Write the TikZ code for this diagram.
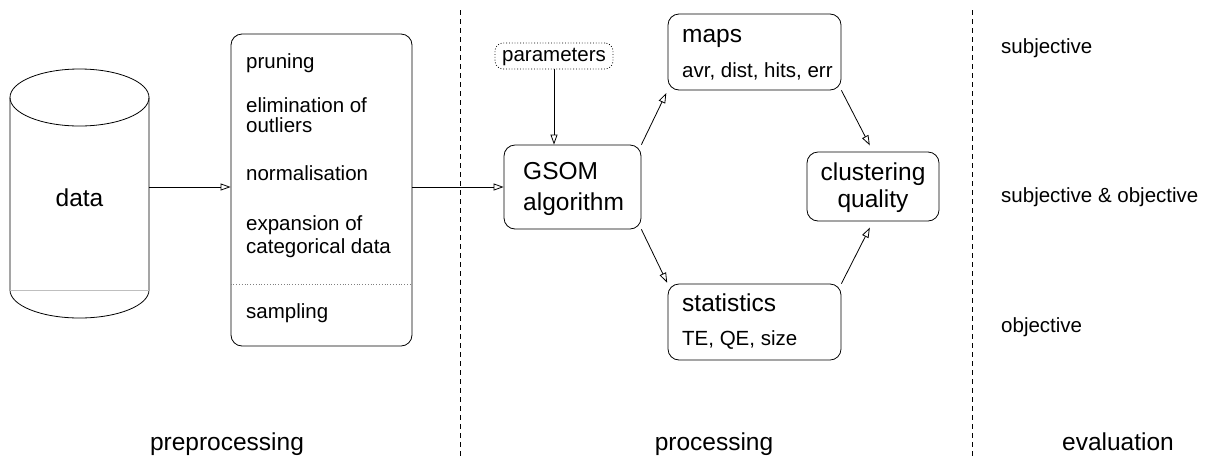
\documentclass[tikz,border=0pt]{standalone}
\usepackage{fontspec}
\setmainfont{Liberation Sans}
\usetikzlibrary{arrows.meta}
\tikzset{
  big/.style={font=\fontsize{24.5}{28}\selectfont, inner sep=0pt},
  small/.style={font=\fontsize{20.5}{23}\selectfont, inner sep=0pt},
  box/.style={draw, rounded corners=11pt, line width=0.8pt, inner sep=0pt},
  parbox/.style={draw, dotted, rounded corners=8pt, line width=0.8pt, inner sep=0pt},
  arr/.style={draw, line width=0.8pt, -{Triangle[open, length=10pt, width=7pt]}},
  sepline/.style={draw, dash pattern=on 5pt off 4pt, line width=0.8pt},
}
\begin{document}
\begin{tikzpicture}[x=1pt, y=-1pt]
\useasboundingbox (0,0) rectangle (1209,456);

% cylinder (data)
\draw[line width=0.8pt] (79.5,97.5) ellipse [x radius=69.5, y radius=28.5];
\draw[line width=0.8pt] (10,97.5) -- (10,290) arc[start angle=180, end angle=0, x radius=69.5, y radius=28] -- (149,97.5);
\draw[gray!50, line width=0.8pt] (10,290) -- (149,290);
\node[big, anchor=base] (data) at (79.5,206.7) {data};
\coordinate (dataE) at (149,187);

% preprocessing box
\node[box, minimum width=181pt, minimum height=312pt] (pre) at (321.5,190) {};
\node[small, anchor=base west] (p1) at (246,68) {pruning};
\node[small, anchor=base west] (p2) at (246,112) {elimination of};
\node[small, anchor=base west] (p3) at (246,132) {outliers};
\node[small, anchor=base west] (p4) at (246,180) {normalisation};
\node[small, anchor=base west] (p5) at (246,230) {expansion of};
\node[small, anchor=base west] (p6) at (246,253) {categorical data};
\node[small, anchor=base west] (p7) at (246,318) {sampling};
\coordinate (sepy) at (0,284);
\draw[dotted, gray, line width=0.8pt] (pre.west |- sepy) -- (pre.east |- sepy);

% processing
\node[parbox, minimum width=118pt, minimum height=26pt] (params) at (554,56) {};
\node[small, anchor=base] (paramtxt) at (554,61.7) {parameters};

\node[box, minimum width=137pt, minimum height=84pt] (gsom) at (572.5,187) {};
\node[big, anchor=base west] (g1) at (523,179) {GSOM};
\node[big, anchor=base west] (g2) at (523,210) {algorithm};

\node[box, minimum width=173pt, minimum height=76pt] (maps) at (754.5,52) {};
\node[big, anchor=base west] (m1) at (682,42.7) {maps};
\node[small, anchor=base west] (m2) at (682,77.3) {avr, dist, hits, err};

\node[box, minimum width=173pt, minimum height=76pt] (stats) at (754.5,322) {};
\node[big, anchor=base west] (s1) at (682,311.7) {statistics};
\node[small, anchor=base west] (s2) at (682,345.7) {TE, QE, size};

\node[box, minimum width=132pt, minimum height=69pt] (clust) at (873,186.5) {};
\node[big, anchor=base] (c1) at (873,180) {clustering};
\node[big, anchor=base] (c2) at (873,207) {quality};

% connectors
\draw[arr] (dataE) -- (dataE -| pre.west);
\draw[arr] (pre.east |- gsom.west) -- (gsom.west);
\draw[arr] (params.south) -- (params.south |- gsom.north);
\draw[arr, shorten >=3pt] (gsom.north east) -- (maps.south west);
\draw[arr, shorten >=7pt] (maps.south east) -- (clust.north);
\draw[arr, shorten >=1pt] (gsom.south east) -- (stats.north west);
\draw[arr, shorten >=7pt] (stats.north east) -- (clust.south);

% separators
\coordinate (d1t) at (460,10);
\coordinate (d1b) at (460,456);
\coordinate (d2t) at (972.5,10);
\coordinate (d2b) at (972.5,456);
\draw[sepline] (d1t) -- (d1b);
\draw[sepline] (d2t) -- (d2b);

% evaluation labels
\node[small, anchor=base west] (e1) at (1001,53) {subjective};
\node[small, anchor=base west] (e2) at (1001,202) {subjective \& objective};
\node[small, anchor=base west] (e3) at (1001,332) {objective};

% stage labels
\node[big, anchor=base] (l1) at (227,450) {preprocessing};
\node[big, anchor=base] (l2) at (714,450) {processing};
\node[big, anchor=base] (l3) at (1118,450) {evaluation};
\end{tikzpicture}
\end{document}
